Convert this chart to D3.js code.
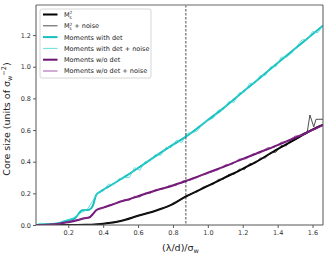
<!DOCTYPE html>
<html>
<head>
<meta charset="utf-8">
<script src="https://cdn.jsdelivr.net/npm/d3@7"></script>
<style>
  body { margin: 0; background: #fff; }
  svg { display: block; font-family: "DejaVu Sans", sans-serif; }
</style>
</head>
<body>
<div id="chart"></div>
<script>
// ---- data ----
const xTicks = [0.2, 0.4, 0.6, 0.8, 1.0, 1.2, 1.4, 1.6];
const yTicks = [0.0, 0.2, 0.4, 0.6, 0.8, 1.0, 1.2];
const cutoffX = 0.874;

// M_s^2 (smooth)
const msX = [0.015, 0.25, 0.3, 0.35, 0.4, 0.5, 0.6, 0.7, 0.78, 0.874, 0.95, 1.0, 1.088, 1.2, 1.279, 1.4, 1.47, 1.55, 1.6, 1.66];
const msY = [0, 0, 0.001, 0.003, 0.008, 0.025, 0.058, 0.09, 0.122, 0.18, 0.22, 0.247, 0.295, 0.355, 0.4, 0.48, 0.522, 0.572, 0.603, 0.632];
// M_s^2 + noise
const msNoiseX = [0.015, 0.25, 0.3, 0.35, 0.4, 0.5, 0.6, 0.7, 0.78, 0.85, 0.88, 0.91, 0.94, 0.97, 1.0, 1.03, 1.06, 1.09, 1.12, 1.15, 1.18, 1.21, 1.24, 1.27, 1.30, 1.33, 1.36, 1.39, 1.42, 1.45, 1.48, 1.51, 1.54, 1.57, 1.585, 1.607, 1.62, 1.66];
const msNoiseY = [0, 0, 0.001, 0.003, 0.008, 0.025, 0.058, 0.09, 0.122, 0.165, 0.182, 0.2, 0.21, 0.238, 0.25, 0.256, 0.288, 0.29, 0.32, 0.32, 0.352, 0.35, 0.388, 0.39, 0.422, 0.424, 0.458, 0.46, 0.502, 0.5, 0.542, 0.545, 0.575, 0.59, 0.695, 0.62, 0.668, 0.668];

// Moments with det (smooth)
const detX = [0.015, 0.05, 0.10, 0.15, 0.18, 0.20, 0.24, 0.28, 0.32, 0.34, 0.36, 0.38, 0.40, 0.44, 0.48, 0.52, 0.56, 0.60, 0.65, 0.70, 0.75, 0.80, 0.874, 0.95, 1.0, 1.088, 1.2, 1.3, 1.374, 1.45, 1.55, 1.66];
const detY = [0.0, 0.003, 0.006, 0.012, 0.024, 0.03, 0.045, 0.093, 0.097, 0.12, 0.19, 0.208, 0.222, 0.248, 0.275, 0.303, 0.33, 0.36, 0.397, 0.435, 0.472, 0.508, 0.558, 0.62, 0.663, 0.737, 0.84, 0.93, 1.0, 1.07, 1.16, 1.26];
// Moments with det + noise
const detNoiseX = [0.015, 0.04, 0.07, 0.11, 0.15, 0.19, 0.23, 0.27, 0.31, 0.35, 0.37, 0.40, 0.43, 0.46, 0.49, 0.52, 0.55, 0.58, 0.61, 0.64, 0.67, 0.70, 0.73, 0.76, 0.79, 0.82, 0.85, 0.88, 0.91, 0.94, 0.97, 1.00, 1.03, 1.06, 1.09, 1.12, 1.15, 1.18, 1.21, 1.24, 1.27, 1.30, 1.33, 1.36, 1.39, 1.42, 1.45, 1.48, 1.51, 1.54, 1.57, 1.60, 1.63, 1.66];
const detNoiseY = [0.0, 0.012, 0.002, 0.008, 0.01, 0.03, 0.045, 0.075, 0.1, 0.17, 0.205, 0.215, 0.258, 0.255, 0.292, 0.3, 0.3, 0.362, 0.345, 0.4, 0.405, 0.445, 0.44, 0.49, 0.49, 0.535, 0.52, 0.58, 0.582, 0.595, 0.64, 0.66, 0.675, 0.725, 0.73, 0.78, 0.775, 0.835, 0.84, 0.895, 0.895, 0.945, 0.945, 1.0, 1.0, 1.06, 1.06, 1.085, 1.13, 1.17, 1.17, 1.222, 1.215, 1.26];

// Moments w/o det (smooth)
const woX = [0.015, 0.1, 0.15, 0.2, 0.25, 0.29, 0.32, 0.34, 0.36, 0.40, 0.45, 0.5, 0.55, 0.6, 0.7, 0.8, 0.874, 1.0, 1.1, 1.183, 1.279, 1.4, 1.47, 1.55, 1.66];
const woY = [0, 0.003, 0.008, 0.018, 0.03, 0.042, 0.047, 0.068, 0.093, 0.11, 0.128, 0.148, 0.163, 0.182, 0.218, 0.25, 0.278, 0.33, 0.372, 0.41, 0.452, 0.505, 0.537, 0.575, 0.632];
// Moments w/o det + noise
const woNoiseX = [0.015, 0.05, 0.09, 0.13, 0.17, 0.21, 0.25, 0.29, 0.32, 0.35, 0.37, 0.40, 0.43, 0.46, 0.49, 0.52, 0.55, 0.58, 0.61, 0.64, 0.67, 0.70, 0.74, 0.78, 0.82, 0.86, 0.90, 0.94, 0.98, 1.02, 1.06, 1.10, 1.14, 1.18, 1.22, 1.26, 1.30, 1.34, 1.38, 1.42, 1.46, 1.50, 1.54, 1.58, 1.62, 1.66];
const woNoiseY = [0, 0.002, 0.003, 0.006, 0.013, 0.02, 0.033, 0.04, 0.05, 0.08, 0.1, 0.108, 0.124, 0.133, 0.145, 0.158, 0.158, 0.182, 0.176, 0.202, 0.2, 0.224, 0.226, 0.25, 0.253, 0.28, 0.283, 0.3, 0.322, 0.335, 0.35, 0.38, 0.385, 0.417, 0.418, 0.45, 0.455, 0.487, 0.49, 0.522, 0.528, 0.562, 0.565, 0.59, 0.607, 0.63];

const series = [
  { name: "ms",      xs: msX,       ys: msY,       color: "#000000", width: 2,   smooth: true },
  { name: "msN",     xs: msNoiseX,  ys: msNoiseY,  color: "#222222", width: 0.8, smooth: false },
  { name: "det",     xs: detX,      ys: detY,      color: "#17bfbf", width: 2,   smooth: true },
  { name: "detN",    xs: detNoiseX, ys: detNoiseY, color: "#3fd6d6", width: 0.8, smooth: false },
  { name: "wo",      xs: woX,       ys: woY,       color: "#6a1370", width: 2,   smooth: true },
  { name: "woN",     xs: woNoiseX,  ys: woNoiseY,  color: "#8e2c92", width: 0.8, smooth: false }
];
const legendLabels = ["M", "M", "Moments with det", "Moments with det + noise", "Moments w/o det", "Moments w/o det + noise"];

// ---- layout ----
const W = 329, H = 258;
const margin = { top: 5, right: 6, bottom: 33, left: 36 };
const iw = W - margin.left - margin.right;
const ih = H - margin.top - margin.bottom;

const svg = d3.select("#chart").append("svg").attr("width", W).attr("height", H);
svg.append("rect").attr("width", W).attr("height", H).attr("fill", "#fff");

const g = svg.append("g").attr("transform", `translate(${margin.left},${margin.top})`);

const x = d3.scaleLinear().domain([0.015, 1.66]).range([0, iw]);
const y = d3.scaleLinear().domain([0, 1.39]).range([ih, 0]);

// axes
const xAxis = g.append("g").attr("transform", `translate(0,${ih})`)
  .call(d3.axisBottom(x).tickValues(xTicks).tickSize(3).tickPadding(2).tickFormat(d3.format(".1f")));
const yAxis = g.append("g")
  .call(d3.axisLeft(y).tickValues(yTicks).tickSize(3).tickPadding(2).tickFormat(d3.format(".1f")));
[xAxis, yAxis].forEach(a => {
  a.select(".domain").remove();
  a.selectAll("line").attr("stroke", "#333").attr("stroke-width", 0.8);
  a.selectAll("text").attr("font-size", 6.5).attr("fill", "#333").attr("font-family", "DejaVu Sans");
});

// clip for the lines
g.append("clipPath").attr("id", "clip").append("rect").attr("width", iw).attr("height", ih);

const line = d3.line().x(d => x(d[0])).y(d => y(d[1]));
const lines = g.append("g").attr("clip-path", "url(#clip)");
series.forEach(s => {
  const pts = s.xs.map((v, i) => [v, s.ys[i]]);
  lines.append("path")
    .attr("d", line.curve(s.smooth ? d3.curveMonotoneX : d3.curveLinear)(pts))
    .attr("fill", "none")
    .attr("stroke", s.color)
    .attr("stroke-width", s.width)
    .attr("stroke-linejoin", "round");
});

// dashed cutoff
g.append("line")
  .attr("x1", x(cutoffX)).attr("x2", x(cutoffX))
  .attr("y1", 0).attr("y2", ih)
  .attr("stroke", "#222").attr("stroke-width", 0.8)
  .attr("stroke-dasharray", "2.5,1.5");

// spines
g.append("line").attr("x1", 0).attr("x2", iw).attr("y1", 0).attr("y2", 0).attr("stroke", "#999").attr("stroke-width", 1.6);
g.append("line").attr("x1", 0).attr("x2", 0).attr("y1", 0).attr("y2", ih).attr("stroke", "#555").attr("stroke-width", 1);
g.append("line").attr("x1", iw).attr("x2", iw).attr("y1", 0).attr("y2", ih).attr("stroke", "#555").attr("stroke-width", 1);
g.append("line").attr("x1", 0).attr("x2", iw).attr("y1", ih).attr("y2", ih).attr("stroke", "#555").attr("stroke-width", 1);

// legend
const leg = g.append("g").attr("transform", "translate(4,4)");
leg.append("rect").attr("width", 111).attr("height", 69).attr("rx", 2)
  .attr("fill", "#fff").attr("fill-opacity", 0.9).attr("stroke", "#ccc").attr("stroke-width", 0.8);
const rowY = d3.scalePoint().domain(d3.range(6)).range([5.5, 62]);
series.forEach((s, i) => {
  const row = leg.append("g").attr("transform", `translate(0,${rowY(i)})`);
  row.append("line").attr("x1", 3).attr("x2", 17.5).attr("stroke", s.color).attr("stroke-width", s.width);
  const t = row.append("text").attr("x", 24).attr("y", 2.4).attr("font-size", 6.5).attr("fill", "#222");
  if (i < 2) {
    t.append("tspan").text("M");
    t.append("tspan").attr("font-size", 4.3).attr("dy", 1.6).text("s");
    t.append("tspan").attr("font-size", 4.3).attr("dx", -2.4).attr("dy", -4.2).text("2");
    if (i === 1) t.append("tspan").attr("dy", 2.6).text(" + noise");
  } else {
    t.text(legendLabels[i]);
  }
});

// axis labels
const xl = svg.append("text")
  .attr("x", margin.left + iw / 2 + 1).attr("y", 251)
  .attr("text-anchor", "middle").attr("font-size", 9.5).attr("fill", "#222");
xl.append("tspan").text("(λ/d)/σ");
xl.append("tspan").attr("font-size", 6.5).attr("dy", 2).text("w");

const yl = svg.append("text")
  .attr("transform", `translate(10,${margin.top + ih / 2 + 4}) rotate(-90)`)
  .attr("text-anchor", "middle").attr("font-size", 9.5).attr("fill", "#222");
yl.append("tspan").text("Core size (units of σ");
yl.append("tspan").attr("font-size", 6.5).attr("dy", 2).text("w");
yl.append("tspan").attr("font-size", 6.5).attr("dy", -6).text("−2");
yl.append("tspan").attr("dy", 4).text(")");
</script>
</body>
</html>
